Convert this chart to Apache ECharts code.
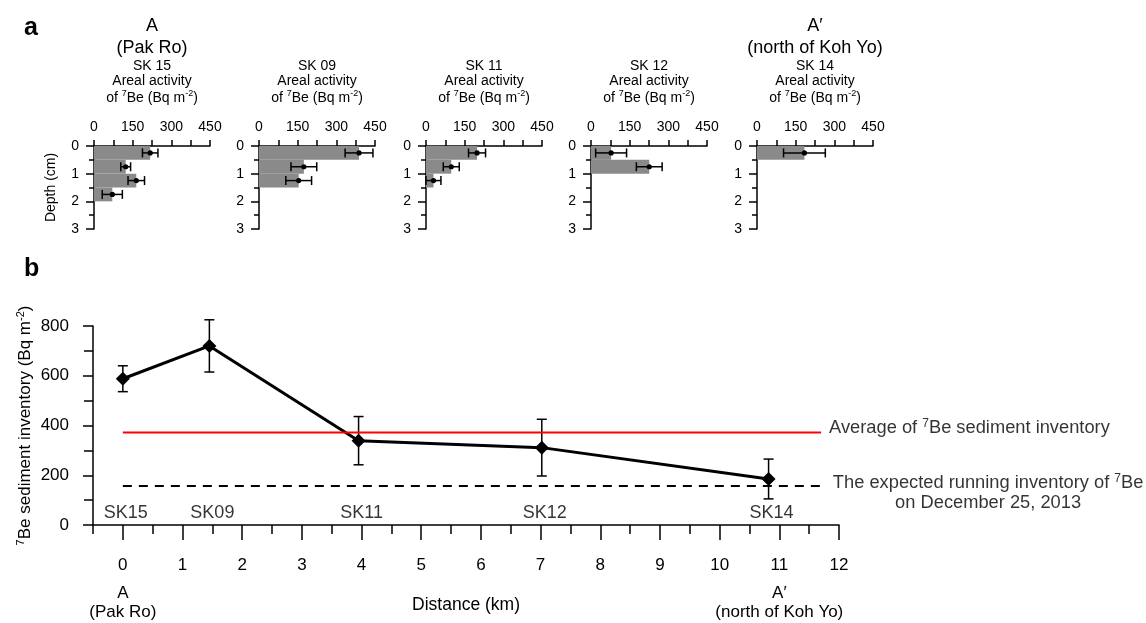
<!DOCTYPE html>
<html><head><meta charset="utf-8">
<script src="https://cdn.jsdelivr.net/npm/echarts@6/dist/echarts.min.js"></script>
<style>html,body{margin:0;padding:0;background:#fff}#c{width:1146px;height:623px}</style>
</head><body><div id="c"></div>
<script>
const FONT = "'Liberation Sans', Arial, Helvetica, sans-serif";

// ---------- Panel a: areal activity of 7Be per 0.5-cm layer ----------
const coreNames = ['SK 15', 'SK 09', 'SK 11', 'SK 12', 'SK 14'];
const layerTop = [0, 0.5, 1, 1.5];
const layerThickness = 0.5;
const sk15Activity = [218, 123, 164, 71];
const sk15Error = [30, 19, 32, 39];
const sk09Activity = [388, 174, 154];
const sk09Error = [54, 50, 50];
const sk11Activity = [198, 98, 29];
const sk11Error = [33, 31, 29];
const sk12Activity = [78, 226];
const sk12Error = [60, 50];
const sk14Activity = [184];
const sk14Error = [81];
const activityMax = 450;
const activityTickStep = 75;
const activityLabelStep = 150;
const depthMax = 3;
const panelHeaders = { 0: ['A', '(Pak Ro)'], 4: ['A\u2032', '(north of Koh Yo)'] };

// ---------- Panel b: 7Be sediment inventory along the transect ----------
const stationNames = ['SK15', 'SK09', 'SK11', 'SK12', 'SK14'];
const stationDistance = [0, 1.45, 3.95, 7.02, 10.82];
const inventory = [588, 720, 339, 311, 185];
const inventoryError = [52, 105, 97, 114, 80];
const averageInventory = 372;
const expectedInventory = 157;
const refLineRange = [0, 11.7];
const distanceMin = -0.5, distanceMax = 12;
const endpointNames = { 0: ['A', '(Pak Ro)'], 11: ['A\u2032', '(north of Koh Yo)'] };

const activities = [sk15Activity, sk09Activity, sk11Activity, sk12Activity, sk14Activity];
const errors = [sk15Error, sk09Error, sk11Error, sk12Error, sk14Error];

// layout
const panelLeft = [94, 259, 426, 591, 757];
const panelWidth = 116, panelTop = 146, panelHeight = 83;
const bLeft = 93, bTop = 326, bWidth = 746, bHeight = 199;

const grids = [], xAxes = [], yAxes = [], series = [];
const axisLineStyle = { color: '#000', width: 1.5 };

const smallRich = {
  h: { fontSize: 18, lineHeight: 22, fontFamily: FONT, color: '#000' },
  h2: { fontSize: 18, lineHeight: 22, fontFamily: FONT, color: '#000' },
  t: { fontSize: 14, lineHeight: 15, fontFamily: FONT, color: '#000' },
  u: { fontSize: 14, lineHeight: 18, fontFamily: FONT, color: '#000' },
  s: { fontSize: 9, lineHeight: 8, verticalAlign: 'top', fontFamily: FONT, color: '#000' }
};

coreNames.forEach((name, i) => {
  grids.push({ left: panelLeft[i], top: panelTop, width: panelWidth, height: panelHeight, outerBoundsMode: 'none' });
  let title = '';
  if (panelHeaders[i]) title += '{h|' + panelHeaders[i][0] + '}\n{h2|' + panelHeaders[i][1] + '}\n';
  title += '{t|' + name + '}\n{t|Areal activity}\n{u|of }{s|7}{u|Be (Bq m}{s|-2}{u|)}';
  xAxes.push({
    gridIndex: i, type: 'value', position: 'top', min: 0, max: activityMax, interval: activityTickStep,
    axisLine: { onZero: false, lineStyle: axisLineStyle },
    axisTick: { length: 6, lineStyle: axisLineStyle },
    axisLabel: { fontSize: 14, color: '#000', margin: 12, fontFamily: FONT,
      formatter: v => (v % activityLabelStep === 0 ? String(v) : '') },
    splitLine: { show: false },
    name: title, nameLocation: 'middle', nameGap: 39, nameMoveOverlap: false,
    nameTextStyle: { rich: smallRich, align: 'center' }
  });
  yAxes.push({
    gridIndex: i, type: 'value', inverse: true, min: 0, max: depthMax, interval: 1,
    axisLine: { onZero: false, lineStyle: axisLineStyle },
    axisTick: { length: 8, lineStyle: axisLineStyle },
    minorTick: { show: true, splitNumber: 2, length: 5, lineStyle: axisLineStyle },
    axisLabel: { fontSize: 14, color: '#000', margin: 15, fontFamily: FONT },
    splitLine: { show: false }, minorSplitLine: { show: false },
    name: i === 0 ? 'Depth (cm)' : '', nameLocation: 'middle', nameGap: 36, nameMoveOverlap: false,
    nameTextStyle: { fontSize: 14, color: '#000', fontFamily: FONT }
  });
  const act = activities[i], err = errors[i];
  series.push({
    type: 'custom', xAxisIndex: i, yAxisIndex: i, z: 2,
    data: act.map((v, j) => [v, layerTop[j], layerTop[j] + layerThickness]),
    encode: { x: 0, y: [1, 2] },
    renderItem: (params, api) => {
      const p0 = api.coord([0, api.value(1)]);
      const p1 = api.coord([api.value(0), api.value(2)]);
      return { type: 'rect', shape: { x: p0[0], y: p0[1], width: p1[0] - p0[0], height: p1[1] - p0[1] },
        style: { fill: '#8a8a8a' } };
    }
  });
  series.push({
    type: 'custom', xAxisIndex: i, yAxisIndex: i, z: 3,
    data: act.map((v, j) => [v, layerTop[j] + layerThickness / 2, err[j]]),
    encode: { x: 0, y: 1 },
    renderItem: (params, api) => {
      const v = api.value(0), d = api.value(1), e = api.value(2);
      const a = api.coord([v - e, d]), b = api.coord([v + e, d]), c = api.coord([v, d]);
      const st = { stroke: '#000', lineWidth: 1.5 };
      return { type: 'group', children: [
        { type: 'line', shape: { x1: a[0], y1: a[1], x2: b[0], y2: b[1] }, style: st },
        { type: 'line', shape: { x1: a[0], y1: a[1] - 4.5, x2: a[0], y2: a[1] + 4.5 }, style: st },
        { type: 'line', shape: { x1: b[0], y1: b[1] - 4.5, x2: b[0], y2: b[1] + 4.5 }, style: st },
        { type: 'circle', shape: { cx: c[0], cy: c[1], r: 2.6 }, style: { fill: '#000' } }
      ] };
    }
  });
});

// ---------- panel b ----------
const B = grids.length;
grids.push({ left: bLeft, top: bTop, width: bWidth, height: bHeight, outerBoundsMode: 'none' });
// helper grid: same scale, starting at distance 0, only for the long whole-km ticks
const pxPerKm = bWidth / (distanceMax - distanceMin);
const B2 = grids.length;
grids.push({ left: bLeft - distanceMin * pxPerKm, top: bTop, width: distanceMax * pxPerKm, height: bHeight, outerBoundsMode: 'none' });

const bigRich = {
  n: { fontSize: 17, lineHeight: 36, fontFamily: FONT, color: '#000' },
  a: { fontSize: 17, lineHeight: 20, fontFamily: FONT, color: '#000' },
  b: { fontSize: 17, lineHeight: 18, fontFamily: FONT, color: '#000' },
  t: { fontSize: 17, lineHeight: 20, fontFamily: FONT, color: '#000' },
  s: { fontSize: 11, lineHeight: 10, verticalAlign: 'top', fontFamily: FONT, color: '#000' },
  r: { fontSize: 18.3, lineHeight: 20, fontFamily: FONT, color: '#000' },
  rs: { fontSize: 12, lineHeight: 10, verticalAlign: 'top', fontFamily: FONT, color: '#000' }
};
const XB = xAxes.length, YB = yAxes.length;  // axis indices for panel b
xAxes.push({
  gridIndex: B, type: 'value', position: 'bottom', min: distanceMin, max: distanceMax, interval: 0.5,
  axisLine: { onZero: false, lineStyle: axisLineStyle },
  axisTick: { length: 9, lineStyle: axisLineStyle },
  axisLabel: { margin: 22, rich: bigRich,
    formatter: v => {
      if (Math.abs(v - Math.round(v)) > 1e-6 || v < 0) return '';
      let s = '{n|' + v + '}';
      if (endpointNames[v]) s += '\n{a|' + endpointNames[v][0] + '}\n{b|' + endpointNames[v][1] + '}';
      return s;
    } },
  splitLine: { show: false },
  name: 'Distance (km)', nameLocation: 'middle', nameGap: 71, nameMoveOverlap: false,
  nameTextStyle: { fontSize: 17.5, color: '#000', fontFamily: FONT }
});
yAxes.push({
  gridIndex: B, type: 'value', min: 0, max: 800, interval: 200,
  axisLine: { onZero: false, lineStyle: axisLineStyle },
  axisTick: { length: 10, lineStyle: axisLineStyle },
  minorTick: { show: true, splitNumber: 2, length: 9, lineStyle: axisLineStyle },
  axisLabel: { fontSize: 17, color: '#000', margin: 24, fontFamily: FONT },
  splitLine: { show: false }, minorSplitLine: { show: false },
  name: '{t|}{s|7}{t|Be sediment inventory (Bq m}{s|-2}{t|)}',
  nameLocation: 'middle', nameGap: 58, nameMoveOverlap: false,
  nameTextStyle: { rich: bigRich }
});
// long ticks at whole kilometres
xAxes.push({
  gridIndex: B2, type: 'value', position: 'bottom', min: 0, max: distanceMax, interval: 1,
  axisLine: { show: false, onZero: false },
  axisTick: { show: true, length: 15, lineStyle: axisLineStyle },
  axisLabel: { show: false }, splitLine: { show: false }
});
yAxes.push({
  gridIndex: B2, type: 'value', min: 0, max: 800, show: false
});

series.push({
  type: 'custom', xAxisIndex: XB, yAxisIndex: YB, z: 3,
  data: stationDistance.map((x, i) => [x, inventory[i], inventoryError[i]]),
  encode: { x: 0, y: 1 },
  renderItem: (params, api) => {
    const x = api.value(0), y = api.value(1), e = api.value(2);
    const a = api.coord([x, y - e]), b = api.coord([x, y + e]);
    const st = { stroke: '#000', lineWidth: 1.5 };
    return { type: 'group', children: [
      { type: 'line', shape: { x1: a[0], y1: a[1], x2: b[0], y2: b[1] }, style: st },
      { type: 'line', shape: { x1: a[0] - 5, y1: a[1], x2: a[0] + 5, y2: a[1] }, style: st },
      { type: 'line', shape: { x1: b[0] - 5, y1: b[1], x2: b[0] + 5, y2: b[1] }, style: st }
    ] };
  }
});
series.push({
  type: 'line', xAxisIndex: XB, yAxisIndex: YB, z: 4,
  data: stationDistance.map((x, i) => [x, inventory[i]]),
  symbol: 'diamond', symbolSize: [14, 14],
  itemStyle: { color: '#000' }, lineStyle: { color: '#000', width: 3 }
});
series.push({
  type: 'line', xAxisIndex: XB, yAxisIndex: YB, z: 5,
  data: refLineRange.map(x => [x, averageInventory]), symbol: 'none',
  lineStyle: { color: '#ff0000', width: 2 }
});
series.push({
  type: 'line', xAxisIndex: XB, yAxisIndex: YB, z: 3,
  data: refLineRange.map(x => [x, expectedInventory]), symbol: 'none',
  lineStyle: { color: '#000', width: 2, type: [9, 7] }
});
// station labels
series.push({
  type: 'scatter', xAxisIndex: XB, yAxisIndex: YB, z: 6, symbolSize: 0,
  data: stationDistance.map((x, i) => [x, 0, stationNames[i]]),
  label: { show: true, position: 'top', distance: 3, offset: [3, 0], fontSize: 18, color: '#000', fontFamily: FONT,
    formatter: p => p.value[2] }
});
// reference-line annotations
series.push({
  type: 'scatter', xAxisIndex: XB, yAxisIndex: YB, z: 6, symbolSize: 0,
  data: [
    { value: [refLineRange[1], averageInventory],
      label: { show: true, position: 'right', distance: 8, offset: [0, -5], align: 'left', rich: bigRich,
        formatter: '{r|Average of }{rs|7}{r|Be sediment inventory}' } },
    { value: [refLineRange[1], expectedInventory],
      label: { show: true, position: 'right', distance: 0, offset: [167, 7], align: 'center', rich: bigRich,
        formatter: '{r|The expected running inventory of }{rs|7}{r|Be}\n{r|on December 25, 2013}' } }
  ]
});

const chart = echarts.init(document.getElementById('c'), null, { renderer: 'canvas' });
chart.setOption({
  animation: false,
  backgroundColor: '#fff',
  textStyle: { fontFamily: FONT, color: '#000' },
  grid: grids, xAxis: xAxes, yAxis: yAxes, series: series,
  graphic: [
    { type: 'text', left: 24, top: 16, style: { text: 'a', font: 'bold 25px ' + FONT, fill: '#000' } },
    { type: 'text', left: 24, top: 257, style: { text: 'b', font: 'bold 25px ' + FONT, fill: '#000' } }
  ]
});
</script></body></html>
